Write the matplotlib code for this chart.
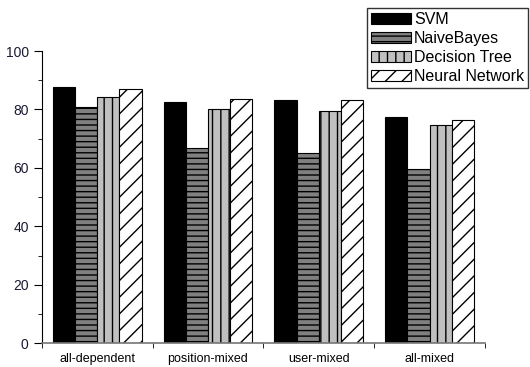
import matplotlib
matplotlib.use("Agg")
import matplotlib.pyplot as plt
import numpy as np

plt.rcParams['font.family'] = ['Liberation Sans', 'DejaVu Sans']
plt.rcParams['hatch.linewidth'] = 1.0

categories = ["all-dependent", "position-mixed", "user-mixed", "all-mixed"]
series_names = ["SVM", "NaiveBayes", "Decision Tree", "Neural Network"]
svm = [87.7, 82.4, 83.3, 77.3]
naive_bayes = [80.8, 66.8, 65.0, 59.5]
decision_tree = [84.1, 80.2, 79.5, 74.6]
neural_network = [87.0, 83.7, 83.2, 76.3]

series = [svm, naive_bayes, decision_tree, neural_network]
colors = ["black", "#808080", "#c0c0c0", "white"]
hatches = [None, "---", "||", "//"]

fig = plt.figure(figsize=(5.3, 3.67), dpi=100)
ax = fig.add_axes([0.079, 0.065, 0.836, 0.796])

x = np.arange(1, len(categories) + 1)
w = 0.2
handles = []
for i, (vals, name) in enumerate(zip(series, series_names)):
    b = ax.bar(x + (i - 1.5) * w, vals, w, color=colors[i], edgecolor="black",
               hatch=hatches[i], linewidth=0.8, label=name)
    handles.append(b)

ax.set_xlim(0.5, 4.5)
ax.set_ylim(0, 100)
ax.set_xticks(x)
ax.set_xticklabels(categories, fontsize=9)
ax.set_xticks(np.arange(0.5, 4.6, 1), minor=True)
ax.set_yticks(np.arange(0, 101, 20))
ax.set_yticks(np.arange(0, 101, 10), minor=True)
ax.tick_params(axis="y", labelsize=10, labelcolor="#1a1a33", length=5.5, pad=4)
ax.tick_params(axis="y", which="minor", length=3)
ax.tick_params(axis="x", which="major", length=0, pad=7)
ax.tick_params(axis="x", which="minor", length=3.5)
ax.spines["top"].set_visible(False)
ax.spines["right"].set_visible(False)
ax.spines["bottom"].set_color("#777777")
ax.spines["bottom"].set_linewidth(1.2)

leg = fig.legend(handles=handles, loc="upper right",
                 bbox_to_anchor=(528 / 530, 1 - 8 / 367), fontsize=11.5,
                 frameon=True, fancybox=False, edgecolor="black",
                 handlelength=2.5, handleheight=0.75, handletextpad=0.2,
                 labelspacing=0.25, borderpad=0.25, borderaxespad=0)
leg.get_frame().set_linewidth(1.0)

fig.savefig("out.png", dpi=100)
